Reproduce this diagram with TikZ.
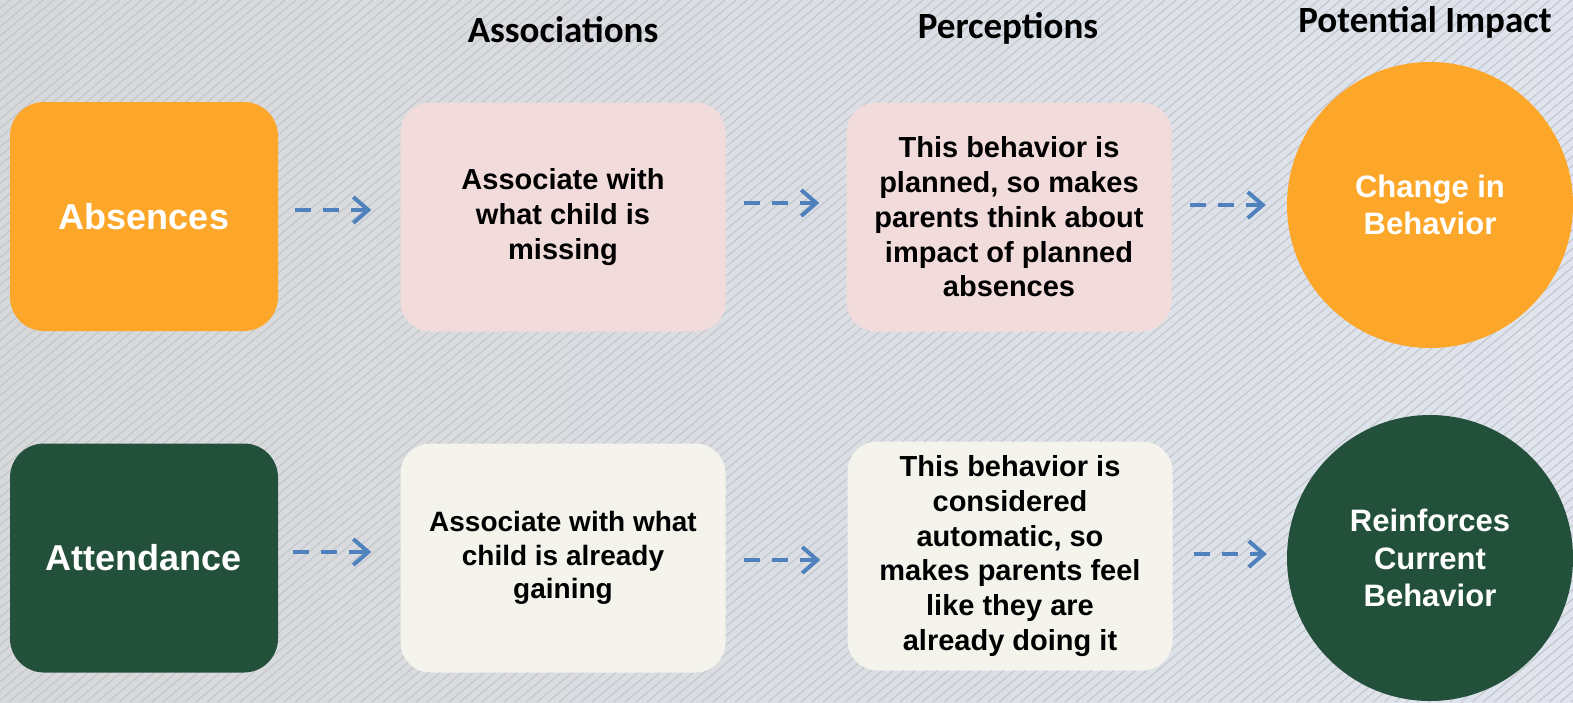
\documentclass[tikz,border=0pt]{standalone}
\usepackage{fontspec}
\setmainfont{Liberation Sans}
\newfontfamily\hdrfont{Carlito}
\usetikzlibrary{arrows.meta,calc}
\definecolor{orng}{HTML}{FDA72A}
\definecolor{dgreen}{HTML}{23503B}
\definecolor{pinkbox}{HTML}{F2DCDB}
\definecolor{creambox}{HTML}{F4F4EC}
\definecolor{arrblue}{HTML}{4F81BD}
\definecolor{bgleft}{HTML}{D7D8D9}
\definecolor{bgright}{HTML}{DFE4EE}
\definecolor{stripe}{HTML}{C3C6CA}
\tikzset{
  rowbox/.style={rounded corners=34pt, minimum width=268pt, minimum height=229pt, inner sep=0pt, align=center, font=\bfseries\fontsize{36}{43}\selectfont, text=white},
  midbox/.style={rounded corners=30pt, minimum width=325pt, minimum height=229pt, inner sep=0pt, align=center, font=\bfseries\fontsize{29}{34.8}\selectfont, text=black},
  circ/.style={circle, minimum size=286pt, inner sep=0pt, align=center, font=\bfseries\fontsize{31}{37.5}\selectfont, text=white},
  hdr/.style={font=\hdrfont\bfseries\fontsize{37}{44}\selectfont, text=black, inner sep=0pt},
  arr/.style={draw=arrblue, line width=4pt, dash pattern=on 16pt off 12pt, -{Straight Barb[length=15pt,width=26pt,line width=4pt]}}
}
\begin{document}
\begin{tikzpicture}[x=1pt,y=-1pt]
\useasboundingbox (0,0) rectangle (1573,702);
\shade[left color=bgleft, right color=bgright] (0,0) rectangle (1573,702);
\begin{scope}
\clip (0,0) rectangle (1573,702);
\foreach \i in {-860,-849,...,1580} {
  \draw[stripe, line width=1.1pt] (\i,702) -- ++(837,-702);
}
\end{scope}

\node[hdr] (h1) at (563,30) {Associations};
\node[hdr] (h2) at (1008,28) {Perceptions};
\node[hdr] (h3) at (1425,22) {Potential Impact};

\node[rowbox, fill=orng] (abs) at (144,216.5) {Absences};
\node[rowbox, fill=dgreen] (att) at (144,558) {Attendance};

\node[midbox, fill=pinkbox] (as1) at (563,217) {Associate with\\what child is\\missing};
\node[midbox, fill=pinkbox] (pe1) at (1009,217) {This behavior is\\planned, so makes\\parents think about\\impact of planned\\absences};
\node[midbox, fill=creambox, font=\bfseries\fontsize{28}{33.5}\selectfont] (as2) at (563,558) {Associate with what\\child is already\\gaining};
\node[midbox, fill=creambox] (pe2) at (1010,556) {This behavior is\\considered\\automatic, so\\makes parents feel\\like they are\\already doing it};

\node[circ, fill=orng] (c1) at (1430,205) {Change in\\Behavior};
\node[circ, fill=dgreen] (c2) at (1430,558) {Reinforces\\Current\\Behavior};

\draw[arr] ([xshift=17pt]abs.east |- 0,210) -- ([xshift=-29pt]as1.west |- 0,210);
\draw[arr] ([xshift=18pt]as1.east |- 0,203) -- ([xshift=-27pt]pe1.west |- 0,203);
\draw[arr] ([xshift=18pt]pe1.east |- 0,205) -- ([xshift=-21pt]c1.west |- 0,205);
\draw[arr] ([xshift=15pt]att.east |- 0,552) -- ([xshift=-29pt]as2.west |- 0,552);
\draw[arr] ([xshift=18pt]as2.east |- 0,560) -- ([xshift=-27pt]pe2.west |- 0,560);
\draw[arr] ([xshift=21pt]pe2.east |- 0,554) -- ([xshift=-20pt]c2.west |- 0,554);
\end{tikzpicture}
\end{document}
